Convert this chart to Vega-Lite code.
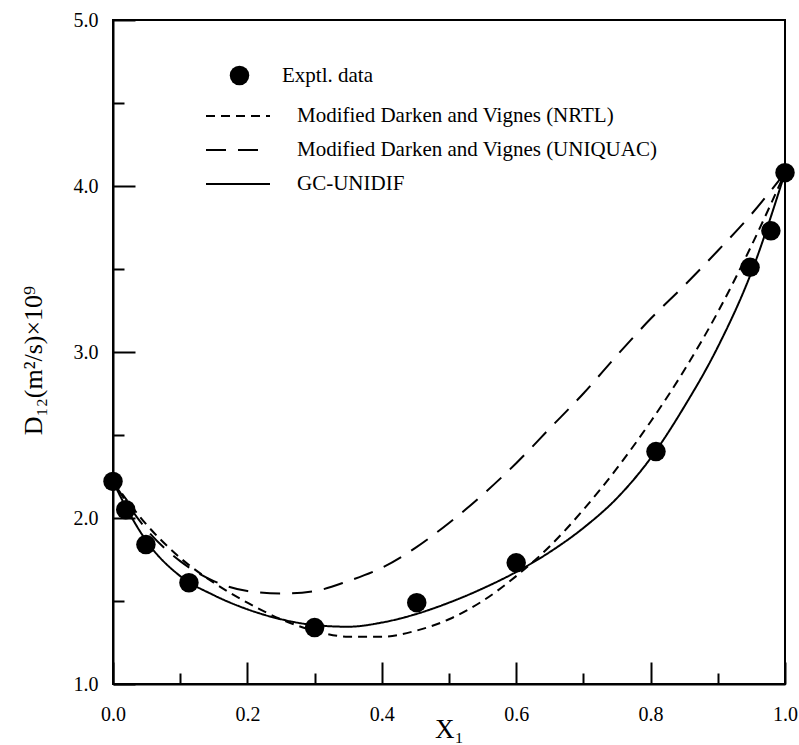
{
  "$schema": "https://vega.github.io/schema/vega-lite/v6.json",
  "width": 672,
  "height": 664,
  "autosize": "none",
  "padding": {"left": 113, "top": 20, "right": 14, "bottom": 61},
  "background": "white",
  "config": {
    "font": "Liberation Serif",
    "view": {"stroke": "black", "strokeWidth": 2},
    "axis": {
      "domainColor": "black", "domainWidth": 2,
      "tickColor": "black", "tickWidth": 2,
      "labelColor": "black", "titleColor": "black",
      "grid": false,
      "labelFont": "Liberation Serif", "titleFont": "Liberation Serif",
      "labelFontSize": 20, "titleFontWeight": "normal"
    },
    "legend": {"labelFont": "Liberation Serif", "labelFontSize": 21, "labelColor": "black", "padding": 0, "labelLimit": 500}
  },
  "datasets": {
    "exp": [
      {"x": 0.0, "y": 2.22}, {"x": 0.019, "y": 2.05}, {"x": 0.049, "y": 1.84},
      {"x": 0.113, "y": 1.61}, {"x": 0.30, "y": 1.34}, {"x": 0.452, "y": 1.49},
      {"x": 0.60, "y": 1.73}, {"x": 0.808, "y": 2.40}, {"x": 0.948, "y": 3.51},
      {"x": 0.979, "y": 3.73}, {"x": 1.0, "y": 4.08}
    ],
    "curves": [
      {"model": "Modified Darken and Vignes (NRTL)", "x": 0.0, "y": 2.22},
      {"model": "Modified Darken and Vignes (NRTL)", "x": 0.05, "y": 1.96},
      {"model": "Modified Darken and Vignes (NRTL)", "x": 0.1, "y": 1.76},
      {"model": "Modified Darken and Vignes (NRTL)", "x": 0.15, "y": 1.61},
      {"model": "Modified Darken and Vignes (NRTL)", "x": 0.2, "y": 1.49},
      {"model": "Modified Darken and Vignes (NRTL)", "x": 0.25, "y": 1.39},
      {"model": "Modified Darken and Vignes (NRTL)", "x": 0.3, "y": 1.32},
      {"model": "Modified Darken and Vignes (NRTL)", "x": 0.35, "y": 1.285},
      {"model": "Modified Darken and Vignes (NRTL)", "x": 0.4, "y": 1.285},
      {"model": "Modified Darken and Vignes (NRTL)", "x": 0.45, "y": 1.32},
      {"model": "Modified Darken and Vignes (NRTL)", "x": 0.5, "y": 1.39},
      {"model": "Modified Darken and Vignes (NRTL)", "x": 0.55, "y": 1.50},
      {"model": "Modified Darken and Vignes (NRTL)", "x": 0.6, "y": 1.65},
      {"model": "Modified Darken and Vignes (NRTL)", "x": 0.65, "y": 1.83},
      {"model": "Modified Darken and Vignes (NRTL)", "x": 0.7, "y": 2.05},
      {"model": "Modified Darken and Vignes (NRTL)", "x": 0.75, "y": 2.30},
      {"model": "Modified Darken and Vignes (NRTL)", "x": 0.8, "y": 2.58},
      {"model": "Modified Darken and Vignes (NRTL)", "x": 0.85, "y": 2.89},
      {"model": "Modified Darken and Vignes (NRTL)", "x": 0.9, "y": 3.24},
      {"model": "Modified Darken and Vignes (NRTL)", "x": 0.95, "y": 3.64},
      {"model": "Modified Darken and Vignes (NRTL)", "x": 1.0, "y": 4.08},
      {"model": "Modified Darken and Vignes (UNIQUAC)", "x": 0.0, "y": 2.22},
      {"model": "Modified Darken and Vignes (UNIQUAC)", "x": 0.05, "y": 1.93},
      {"model": "Modified Darken and Vignes (UNIQUAC)", "x": 0.1, "y": 1.74},
      {"model": "Modified Darken and Vignes (UNIQUAC)", "x": 0.15, "y": 1.62},
      {"model": "Modified Darken and Vignes (UNIQUAC)", "x": 0.2, "y": 1.56},
      {"model": "Modified Darken and Vignes (UNIQUAC)", "x": 0.25, "y": 1.545},
      {"model": "Modified Darken and Vignes (UNIQUAC)", "x": 0.3, "y": 1.56},
      {"model": "Modified Darken and Vignes (UNIQUAC)", "x": 0.35, "y": 1.62},
      {"model": "Modified Darken and Vignes (UNIQUAC)", "x": 0.4, "y": 1.70},
      {"model": "Modified Darken and Vignes (UNIQUAC)", "x": 0.45, "y": 1.82},
      {"model": "Modified Darken and Vignes (UNIQUAC)", "x": 0.5, "y": 1.97},
      {"model": "Modified Darken and Vignes (UNIQUAC)", "x": 0.55, "y": 2.14},
      {"model": "Modified Darken and Vignes (UNIQUAC)", "x": 0.6, "y": 2.33},
      {"model": "Modified Darken and Vignes (UNIQUAC)", "x": 0.65, "y": 2.54},
      {"model": "Modified Darken and Vignes (UNIQUAC)", "x": 0.7, "y": 2.75},
      {"model": "Modified Darken and Vignes (UNIQUAC)", "x": 0.75, "y": 2.98},
      {"model": "Modified Darken and Vignes (UNIQUAC)", "x": 0.8, "y": 3.20},
      {"model": "Modified Darken and Vignes (UNIQUAC)", "x": 0.85, "y": 3.40},
      {"model": "Modified Darken and Vignes (UNIQUAC)", "x": 0.9, "y": 3.61},
      {"model": "Modified Darken and Vignes (UNIQUAC)", "x": 0.95, "y": 3.83},
      {"model": "Modified Darken and Vignes (UNIQUAC)", "x": 1.0, "y": 4.08},
      {"model": "GC-UNIDIF", "x": 0.0, "y": 2.22},
      {"model": "GC-UNIDIF", "x": 0.02, "y": 2.06},
      {"model": "GC-UNIDIF", "x": 0.05, "y": 1.86},
      {"model": "GC-UNIDIF", "x": 0.1, "y": 1.65},
      {"model": "GC-UNIDIF", "x": 0.15, "y": 1.535},
      {"model": "GC-UNIDIF", "x": 0.2, "y": 1.45},
      {"model": "GC-UNIDIF", "x": 0.25, "y": 1.39},
      {"model": "GC-UNIDIF", "x": 0.3, "y": 1.355},
      {"model": "GC-UNIDIF", "x": 0.35, "y": 1.345},
      {"model": "GC-UNIDIF", "x": 0.4, "y": 1.37},
      {"model": "GC-UNIDIF", "x": 0.45, "y": 1.42},
      {"model": "GC-UNIDIF", "x": 0.5, "y": 1.49},
      {"model": "GC-UNIDIF", "x": 0.55, "y": 1.575},
      {"model": "GC-UNIDIF", "x": 0.6, "y": 1.675},
      {"model": "GC-UNIDIF", "x": 0.65, "y": 1.795},
      {"model": "GC-UNIDIF", "x": 0.7, "y": 1.94},
      {"model": "GC-UNIDIF", "x": 0.75, "y": 2.12},
      {"model": "GC-UNIDIF", "x": 0.8, "y": 2.36},
      {"model": "GC-UNIDIF", "x": 0.85, "y": 2.67},
      {"model": "GC-UNIDIF", "x": 0.9, "y": 3.03},
      {"model": "GC-UNIDIF", "x": 0.95, "y": 3.48},
      {"model": "GC-UNIDIF", "x": 1.0, "y": 4.08}
    ]
  },
  "layer": [
    {
      "data": {"name": "curves"},
      "mark": {"type": "line", "color": "black", "strokeWidth": 2, "interpolate": "monotone"},
      "encoding": {
        "x": {
          "field": "x", "type": "quantitative",
          "scale": {"domain": [0, 1], "nice": false, "zero": false},
          "axis": {
            "values": [0, 0.1, 0.2, 0.3, 0.4, 0.5, 0.6, 0.7, 0.8, 0.9, 1.0],
            "labelExpr": "round(datum.value*10)%2==0 ? format(datum.value,'.1f') : ''",
            "tickSize": {"condition": {"test": "round(datum.value*10)%2==0", "value": -22}, "value": -11},
            "labelPadding": 42,
            "labelFlush": false,
            "title": "X₁",
            "titleFontSize": 27,
            "titleBaseline": "alphabetic",
            "titleY": 53
          }
        },
        "y": {
          "field": "y", "type": "quantitative",
          "scale": {"domain": [1, 5], "nice": false, "zero": false},
          "axis": {
            "values": [1, 1.5, 2, 2.5, 3, 3.5, 4, 4.5, 5],
            "labelExpr": "round(datum.value*2)%2==0 ? format(datum.value,'.1f') : ''",
            "tickSize": {"condition": {"test": "round(datum.value*2)%2==0", "value": -22}, "value": -11},
            "labelPadding": 37,
            "labelFlush": false,
            "title": "D₁₂(m²/s)×10⁹",
            "titleFontSize": 26,
            "titleBaseline": "middle",
            "titleX": -80,
            "titleY": 340
          }
        },
        "strokeDash": {
          "field": "model", "type": "nominal",
          "scale": {
            "domain": ["Modified Darken and Vignes (NRTL)", "Modified Darken and Vignes (UNIQUAC)", "GC-UNIDIF"],
            "range": [[9, 6], [20, 12], [1, 0]]
          },
          "legend": {
            "title": null, "orient": "none", "legendX": 92, "legendY": 79,
            "symbolType": "stroke", "symbolSize": 4096, "symbolStrokeColor": "black",
            "symbolStrokeWidth": 2, "labelOffset": 26, "rowPadding": 0, "clipHeight": 34
          }
        }
      }
    },
    {
      "data": {"name": "exp"},
      "mark": {"type": "point", "filled": true, "color": "black", "opacity": 1, "size": 380},
      "encoding": {
        "x": {"field": "x", "type": "quantitative"},
        "y": {"field": "y", "type": "quantitative"},
        "shape": {
          "datum": "Exptl. data", "type": "nominal",
          "scale": {"range": ["circle"]},
          "legend": {
            "title": null, "orient": "none", "legendX": 116, "legendY": 45,
            "symbolSize": 380, "symbolFillColor": "black", "symbolStrokeColor": "black",
            "symbolOpacity": 1, "labelOffset": 32
          }
        }
      }
    }
  ]
}
